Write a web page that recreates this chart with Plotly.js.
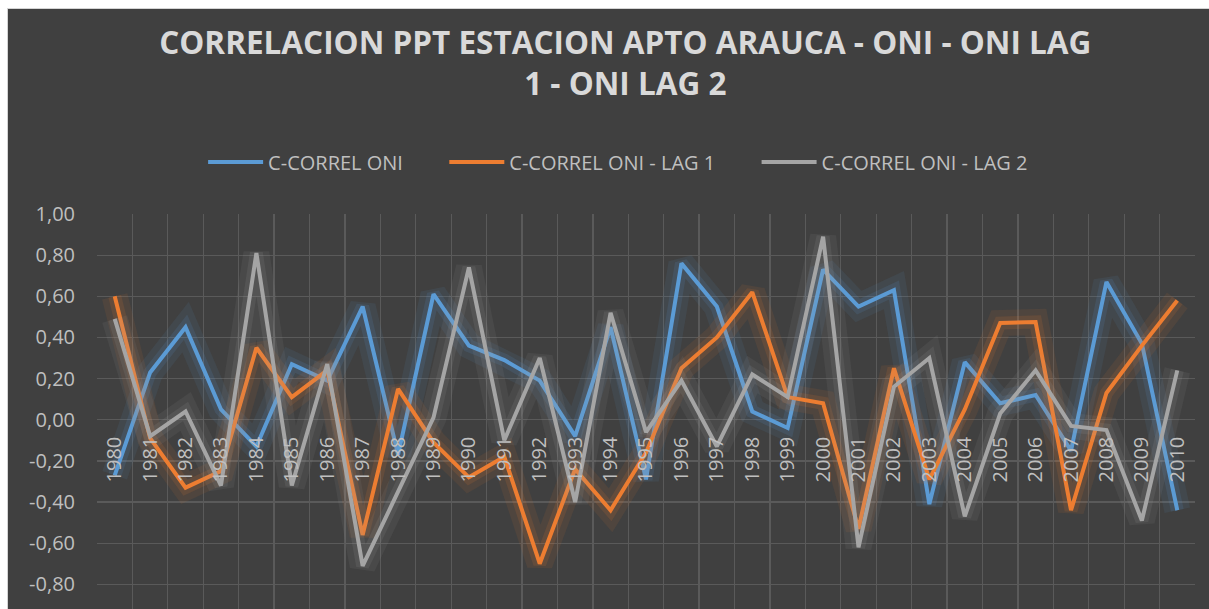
<!DOCTYPE html>
<html><head><meta charset="utf-8">
<script src="https://cdn.plot.ly/plotly-3.0.1.min.js"></script>
<style>
html,body{margin:0;padding:0;background:#ffffff;width:1209px;height:609px;overflow:hidden;}
#chart{position:absolute;left:7px;top:8px;width:1201px;height:600px;border-left:1px solid #d4d4d4;border-top:1px solid #d4d4d4;}
</style></head><body><div id="chart"></div>
<script>
const years = ['1980','1981','1982','1983','1984','1985','1986','1987','1988','1989','1990','1991','1992','1993','1994','1995','1996','1997','1998','1999','2000','2001','2002','2003','2004','2005','2006','2007','2008','2009','2010'];
const correlOni = [-0.27, 0.23, 0.45, 0.05, -0.13, 0.27, 0.19, 0.55, -0.17, 0.61, 0.36, 0.29, 0.19, -0.08, 0.45, -0.29, 0.76, 0.55, 0.04, -0.04, 0.73, 0.55, 0.63, -0.41, 0.28, 0.08, 0.12, -0.15, 0.67, 0.37, -0.44];
const correlLag1 = [0.60, -0.09, -0.33, -0.25, 0.35, 0.11, 0.24, -0.56, 0.15, -0.11, -0.28, -0.18, -0.70, -0.24, -0.44, -0.16, 0.25, 0.40, 0.62, 0.11, 0.08, -0.53, 0.25, -0.29, 0.05, 0.47, 0.475, -0.44, 0.13, 0.36, 0.58];
const correlLag2 = [0.49, -0.08, 0.04, -0.32, 0.81, -0.32, 0.27, -0.71, -0.35, 0.01, 0.74, -0.10, 0.30, -0.40, 0.52, -0.06, 0.19, -0.13, 0.22, 0.11, 0.89, -0.62, 0.16, 0.30, -0.47, 0.03, 0.24, -0.03, -0.05, -0.49, 0.24];
const seriesNames = ['C-CORREL ONI', 'C-CORREL ONI - LAG 1', 'C-CORREL ONI - LAG 2'];
const yTickVals = [-0.8, -0.6, -0.4, -0.2, 0, 0.2, 0.4, 0.6, 0.8, 1.0];
const yTickText = ['-0,80', '-0,60', '-0,40', '-0,20', '0,00', '0,20', '0,40', '0,60', '0,80', '1,00'];
const titleText = 'CORRELACION PPT ESTACION APTO ARAUCA - ONI - ONI LAG<br>1 - ONI LAG 2';

const colors = ['#5B9BD5', '#ED7D31', '#A5A5A5'];
const seriesData = [correlOni, correlLag1, correlLag2];
const legendPad = '\u00a0\u00a0\u00a0\u00a0\u00a0\u00a0\u00a0';
const traces = [];
seriesData.forEach((vals, i) => {
  traces.push({x: years, y: vals, type: 'scatter', mode: 'lines', showlegend: false, hoverinfo: 'skip',
    line: {color: colors[i], width: 26}, opacity: 0.09});
  traces.push({x: years, y: vals, type: 'scatter', mode: 'lines', showlegend: false, hoverinfo: 'skip',
    line: {color: colors[i], width: 13}, opacity: 0.13});
  traces.push({x: years, y: vals, type: 'scatter', mode: 'lines', name: seriesNames[i] + (i < 2 ? legendPad : ''),
    line: {color: colors[i], width: 4}});
});
const font = 'Open Sans, Noto Sans, sans-serif';
const layout = {
  width: 1201, height: 600,
  paper_bgcolor: '#404040', plot_bgcolor: '#404040',
  margin: {l: 89, r: 14, t: 205, b: 0, pad: 0},
  title: {text: titleText, font: {family: font, size: 31.5, color: '#D9D9D9', weight: 700},
    x: 0.514, xanchor: 'center', xref: 'container', y: 0.925, yanchor: 'top', yref: 'container'},
  legend: {orientation: 'h', x: 0.508, xref: 'container', xanchor: 'center', y: 0.745, yref: 'container', yanchor: 'middle',
    font: {family: font, size: 20, color: '#BFBFBF'}, itemwidth: 55, bgcolor: 'rgba(0,0,0,0)'},
  xaxis: {type: 'category', anchor: 'free', position: 0.92/1.92, tickson: 'boundaries', showgrid: true, gridcolor: '#5A5A5A', gridwidth: 1.3,
    tickangle: -90, tickfont: {family: font, size: 20, color: '#BFBFBF'}, ticks: '', showline: false, zeroline: false,
    ticklabelstandoff: 12, range: [-0.5, 30.5]},
  yaxis: {range: [-0.92, 1.0], tickvals: yTickVals, ticktext: yTickText, showgrid: true, gridcolor: '#5A5A5A', gridwidth: 1.3,
    zeroline: false, showline: false, ticks: '', tickfont: {family: font, size: 20, color: '#BFBFBF'}, ticklabelstandoff: 21}
};
Plotly.newPlot('chart', traces, layout, {staticPlot: true, displayModeBar: false});
</script></body></html>
